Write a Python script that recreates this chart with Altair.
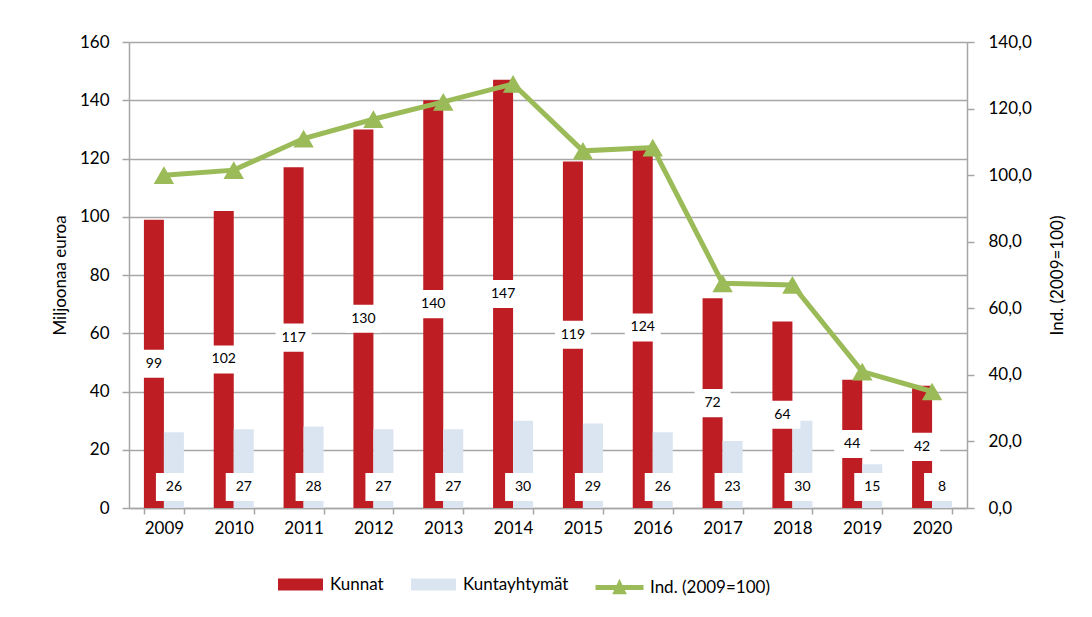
import altair as alt
import pandas as pd

years = ["2009", "2010", "2011", "2012", "2013", "2014", "2015", "2016", "2017", "2018", "2019", "2020"]
kunnat = [99, 102, 117, 130, 140, 147, 119, 124, 72, 64, 44, 42]
kuntayhtymat = [26, 27, 28, 27, 27, 30, 29, 26, 23, 30, 15, 8]
ind = [100.0, 101.5, 111.0, 116.8, 122.0, 127.4, 107.3, 108.3, 67.5, 67.0, 41.0, 35.0]

series_names = ["Kunnat", "Kuntayhtymät"]
line_name = "Ind. (2009=100)"

bars_df = pd.DataFrame(
    [{"year": y, "series": series_names[0], "value": v} for y, v in zip(years, kunnat)]
    + [{"year": y, "series": series_names[1], "value": v} for y, v in zip(years, kuntayhtymat)]
)
line_df = pd.DataFrame({"year": years, "ind": ind, "sname": [line_name] * len(years)})

FONT = "Lato"
GRID = "#a6a6a6"
RED = "#be1e23"
BLUE = "#dbe5f1"
GREEN = "#9bbb59"

x_enc = alt.X(
    "year:N",
    sort=years,
    title=None,
    scale=alt.Scale(paddingInner=0.427, paddingOuter=0.2135),
    axis=alt.Axis(
        tickBand="extent", labelAngle=0, labelFont=FONT, labelFontSize=17,
        labelColor="black", labelPadding=6, tickSize=6, tickColor=GRID,
        domainColor=GRID, domainWidth=1.5, tickWidth=1.5, grid=False,
    ),
)
xoff = alt.XOffset("series:N", sort=series_names, scale=alt.Scale(paddingInner=0, paddingOuter=0))
y_scale = alt.Scale(domain=[0, 160])

AXL = alt.Axis(
    values=list(range(0, 161, 20)), grid=True, gridColor=GRID, gridWidth=1.5,
    domainColor=GRID, domainWidth=1.5, tickColor=GRID, tickWidth=1.5, tickSize=7,
    labelFont=FONT, labelFontSize=17, labelColor="black", labelPadding=13,
    titleFont=FONT, titleFontSize=17, titleFontWeight="normal", titleColor="black",
    titlePadding=10,
)


def yl(field):
    return alt.Y(field, scale=y_scale, title="Miljoonaa euroa", axis=AXL)


bars = alt.Chart(bars_df).mark_bar().encode(
    x=x_enc,
    xOffset=xoff,
    y=yl("value:Q"),
    color=alt.Color(
        "series:N",
        scale=alt.Scale(domain=series_names, range=[RED, BLUE]),
        legend=alt.Legend(
            title=None, orient="none", legendX=149, legendY=520, direction="horizontal",
            symbolType="M-1,-0.27H1V0.27H-1Z", symbolSize=2025, symbolStrokeWidth=0,
            labelFont=FONT, labelFontSize=17, labelColor="black", labelOffset=7,
            columnPadding=27, gridAlign="none",
        ),
    ),
)

label_base = alt.Chart(bars_df).transform_calculate(
    ly="datum.series === 'Kunnat' ? datum.value / 2 : 7.2"
)

boxes = label_base.mark_point(
    shape="M-1,-0.78H1V0.78H-1Z", size=1296, filled=True, fill="white", opacity=1, strokeWidth=0
).encode(
    x=x_enc, xOffset=xoff,
    y=yl("ly:Q"),
)

texts = label_base.mark_text(font=FONT, fontSize=14, color="black", baseline="middle").encode(
    x=x_enc, xOffset=xoff,
    y=yl("ly:Q"),
    text=alt.Text("value:Q", format="d"),
)

left = alt.layer(bars, boxes, texts)

AXR = alt.Axis(
    orient="right", values=list(range(0, 141, 20)), grid=False,
    labelExpr="replace(format(datum.value, '.1f'), '.', ',')",
    domainColor=GRID, domainWidth=1.5, tickColor=GRID, tickWidth=1.5, tickSize=7,
    labelFont=FONT, labelFontSize=17, labelColor="black", labelPadding=14,
    titleFont=FONT, titleFontSize=17, titleFontWeight="normal", titleColor="black",
    titleAngle=270, titleBaseline="top", titlePadding=18,
)


def yr():
    return alt.Y("ind:Q", scale=alt.Scale(domain=[0, 140]), title=line_name, axis=AXR)


line = alt.Chart(line_df).mark_line(strokeWidth=5).encode(
    x=x_enc,
    y=yr(),
    stroke=alt.Stroke(
        "sname:N",
        scale=alt.Scale(domain=[line_name], range=[GREEN]),
        legend=alt.Legend(
            title=None, orient="none", legendX=464, legendY=519, direction="horizontal",
            symbolType="M-1,0H1M-0.14,0.18L0,-0.12L0.14,0.18Z", symbolSize=2304,
            symbolStrokeWidth=5, symbolFillColor=GREEN,
            labelFont=FONT, labelFontSize=17, labelColor="black", labelOffset=4,
        ),
    ),
)

pts = alt.Chart(line_df).mark_point(shape="triangle-up", size=420, filled=True, color=GREEN, opacity=1).encode(
    x=x_enc,
    y=yr(),
)

right = alt.layer(line, pts)

chart = alt.layer(left, right).resolve_scale(y="independent").properties(
    width=838, height=466,
    autosize=alt.AutoSizeParams(type="none"),
    padding={"left": 121, "top": 34, "right": 110, "bottom": 95},
).configure_view(stroke=None, strokeWidth=0).configure(background="white")

chart.save("out.html", embed_options={"renderer": "svg", "actions": False})
